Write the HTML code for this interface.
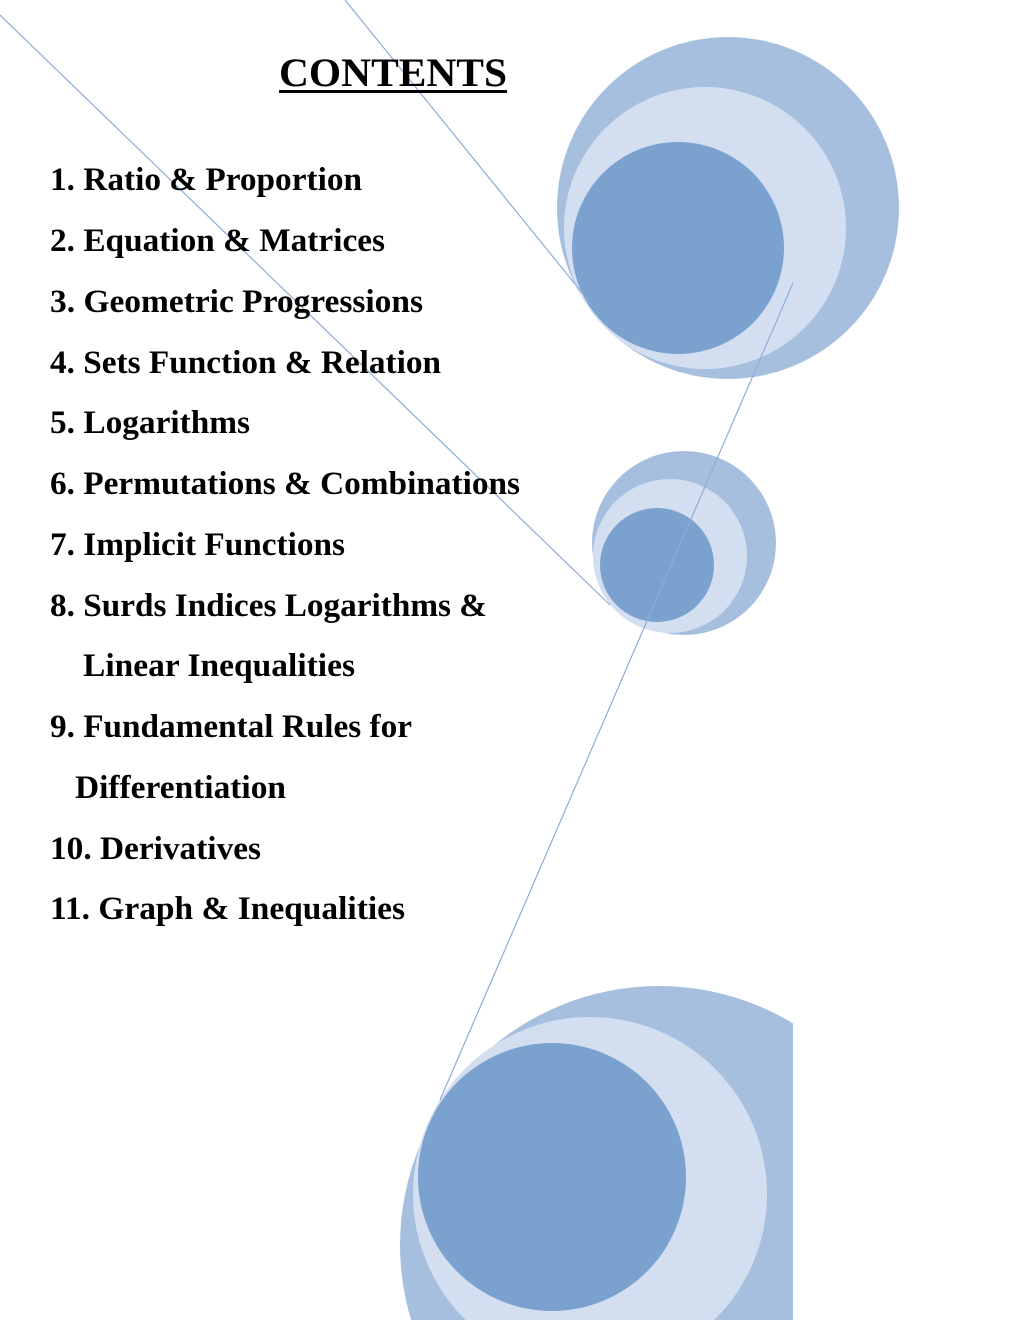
<!DOCTYPE html>
<html><head><meta charset="utf-8"><style>
html,body{margin:0;padding:0;background:#fff;width:1020px;height:1320px;overflow:hidden;}
body{position:relative;}
svg{position:absolute;left:0;top:0;display:block;}
text{font-family:"Liberation Serif",serif;font-weight:bold;fill:#000;}
</style></head><body>
<svg width="1020" height="1320" viewBox="0 0 1020 1320">
<defs><clipPath id="c"><rect x="0" y="0" width="793" height="1320"/></clipPath></defs>
<circle cx="728" cy="208" r="171" fill="#a7bfdf"/>
<circle cx="705" cy="228" r="141" fill="#d3dff0"/>
<circle cx="678" cy="248" r="106" fill="#7ba1cf"/>
<circle cx="684" cy="543" r="92" fill="#a7bfdf"/>
<circle cx="670" cy="556" r="77" fill="#d3dff0"/>
<circle cx="657" cy="565" r="57" fill="#7ba1cf"/>
<g clip-path="url(#c)">
<circle cx="659" cy="1245" r="259" fill="#a7bfdf"/>
<circle cx="590" cy="1194" r="177" fill="#d3dff0"/>
<circle cx="552" cy="1177" r="134" fill="#7ba1cf"/>
</g>
<g stroke="#8eacd6" stroke-width="1.2" fill="none">
<line x1="0" y1="15" x2="610" y2="605"/>
<line x1="345" y1="0" x2="592" y2="305"/>
<line x1="793" y1="283" x2="440" y2="1100"/>
</g>
<text x="279" y="86" font-size="40" textLength="228" lengthAdjust="spacingAndGlyphs">CONTENTS</text>
<rect x="279" y="90" width="228" height="3" fill="#000"/>
<g font-size="33">
<text x="50" y="190" textLength="312" lengthAdjust="spacingAndGlyphs">1. Ratio &amp; Proportion</text>
<text x="50" y="251" textLength="335" lengthAdjust="spacingAndGlyphs">2. Equation &amp; Matrices</text>
<text x="50" y="312" textLength="373" lengthAdjust="spacingAndGlyphs">3. Geometric Progressions</text>
<text x="50" y="373" textLength="391" lengthAdjust="spacingAndGlyphs">4. Sets Function &amp; Relation</text>
<text x="50" y="433" textLength="200" lengthAdjust="spacingAndGlyphs">5. Logarithms</text>
<text x="50" y="494" textLength="470" lengthAdjust="spacingAndGlyphs">6. Permutations &amp; Combinations</text>
<text x="50" y="555" textLength="295" lengthAdjust="spacingAndGlyphs">7. Implicit Functions</text>
<text x="50" y="616" textLength="437" lengthAdjust="spacingAndGlyphs">8. Surds Indices Logarithms &amp;</text>
<text x="83" y="676" textLength="272" lengthAdjust="spacingAndGlyphs">Linear Inequalities</text>
<text x="50" y="737" textLength="362" lengthAdjust="spacingAndGlyphs">9. Fundamental Rules for</text>
<text x="75" y="798" textLength="211" lengthAdjust="spacingAndGlyphs">Differentiation</text>
<text x="50" y="859" textLength="211" lengthAdjust="spacingAndGlyphs">10. Derivatives</text>
<text x="50" y="919" textLength="355" lengthAdjust="spacingAndGlyphs">11. Graph &amp; Inequalities</text>
</g>
</svg>
</body></html>
